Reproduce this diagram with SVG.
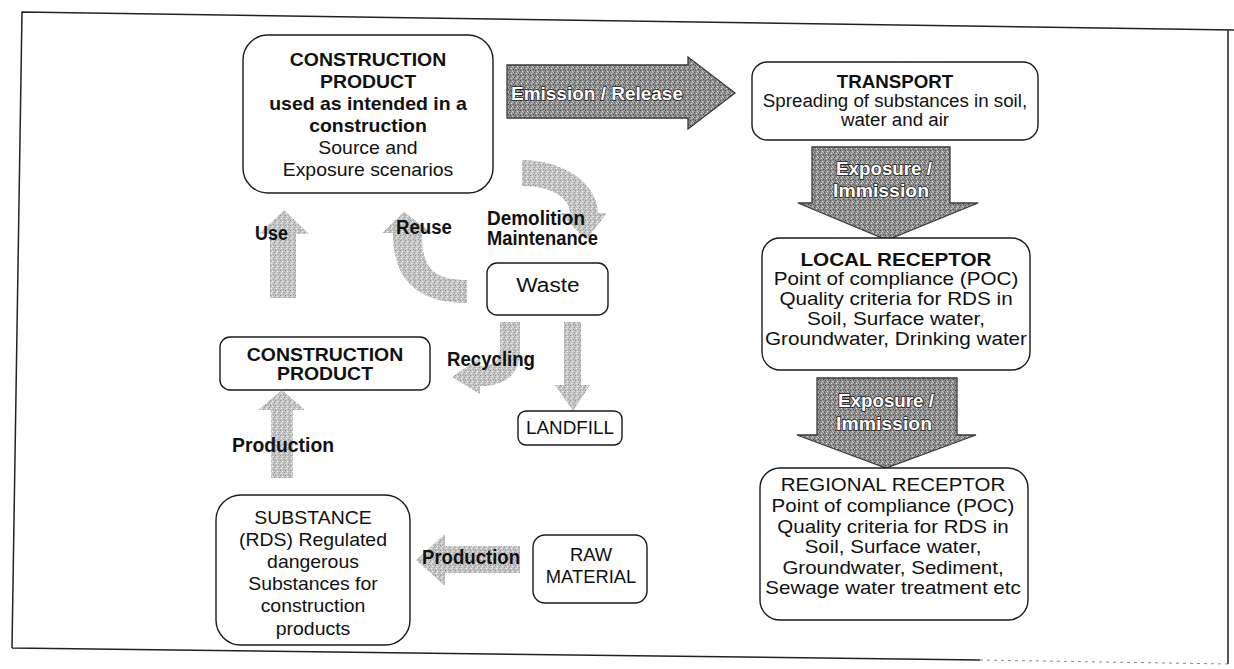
<svg xmlns="http://www.w3.org/2000/svg" width="1234" height="669" viewBox="0 0 1234 669">
<defs>
<pattern id="dark" width="5" height="5" patternUnits="userSpaceOnUse">
<rect width="5" height="5" fill="#8e8e8e"/>
<rect x="0" y="0" width="1" height="1" fill="#4a4a4a"/>
<rect x="2" y="1" width="1" height="1" fill="#d8d8d8"/>
<rect x="4" y="2" width="1" height="1" fill="#555"/>
<rect x="1" y="3" width="1" height="1" fill="#e0e0e0"/>
<rect x="3" y="4" width="1" height="1" fill="#505050"/>
<rect x="3" y="2" width="1" height="1" fill="#bbb"/>
</pattern>
<pattern id="light" width="5" height="5" patternUnits="userSpaceOnUse">
<rect width="5" height="5" fill="#c4c4c4"/>
<rect x="0" y="0" width="1" height="1" fill="#8a8a8a"/>
<rect x="2" y="1" width="1" height="1" fill="#f2f2f2"/>
<rect x="4" y="2" width="1" height="1" fill="#999"/>
<rect x="1" y="3" width="1" height="1" fill="#f5f5f5"/>
<rect x="3" y="4" width="1" height="1" fill="#9a9a9a"/>
</pattern>
</defs>
<style>
.box{fill:#fff;stroke:#1a1a1a;stroke-width:1.4}
.t{font-family:"Liberation Sans",Arial,sans-serif;font-size:18px;fill:#111;text-anchor:middle}
.b{font-weight:bold}
.lab{font-family:"Liberation Sans",Arial,sans-serif;font-size:20px;font-weight:bold;fill:#111}
.darr{fill:url(#dark);stroke:#3a3a3a;stroke-width:1.3}
.larr{fill:url(#light);stroke:none}
.wt{font-family:"Liberation Sans",Arial,sans-serif;font-size:19px;font-weight:bold;fill:#fff;stroke:#222;stroke-width:1.6;paint-order:stroke;text-anchor:middle}
.frame{fill:none;stroke:#222;stroke-width:1.5}
</style>
<rect width="1234" height="669" fill="#fff"/>
<path class="frame" d="M12,648 L22,12 L1234,30 M1228,30 L1228,664 M12,648 L980,660"/>
<path d="M980,660 L1228,664" fill="none" stroke="#888" stroke-width="1" stroke-dasharray="3 4"/>

<g id="connectors">
<path class="darr" d="M507,65 L688,65 L688,57 L735,93 L688,129 L688,118 L507,118 Z"/>
<text class="wt" x="597" y="100" textLength="172" lengthAdjust="spacingAndGlyphs">Emission / Release</text>
<path class="darr" d="M812,147 L950,147 L950,203 L978,203 L887,240 L798,203 L812,203 Z"/>
<text class="wt" x="884" y="175" textLength="96" lengthAdjust="spacingAndGlyphs">Exposure /</text>
<text class="wt" x="881" y="197" textLength="96" lengthAdjust="spacingAndGlyphs">Immission</text>
<path class="darr" d="M817,378 L957,378 L957,435 L976,435 L886,468 L797,435 L817,435 Z"/>
<text class="wt" x="886" y="407" textLength="96" lengthAdjust="spacingAndGlyphs">Exposure /</text>
<text class="wt" x="884" y="430" textLength="96" lengthAdjust="spacingAndGlyphs">Immission</text>

<path class="larr" d="M522,160 C565,160 598,185 598,213 L607,213 L586,240 L560,213 L570,213 C570,197 550,186 522,186 Z"/>
<path class="larr" d="M467,280 C430,280 422,265 422,233 L432,233 L404,212 L382,233 L393,233 C393,282 420,303 467,303 Z"/>
<path class="larr" d="M270,298 L296,298 L296,234 L309,234 L284,210 L259,234 L270,234 Z"/>
<path class="larr" d="M500,322 L520,322 L520,350 C520,372 508,386 480,386 L480,394 L452,377 L480,358 L480,366 C495,366 500,360 500,348 Z"/>
<path class="larr" d="M564,322 L581,322 L581,385 L590,385 L573,411 L555,385 L564,385 Z"/>
<path class="larr" d="M271,478 L293,478 L293,410 L305,410 L282,390 L258,410 L271,410 Z"/>
<path class="larr" d="M520,546 L445,546 L445,534 L416,560 L445,586 L445,573 L520,573 Z"/>

<text class="lab" x="487" y="225" textLength="98" lengthAdjust="spacingAndGlyphs">Demolition</text>
<text class="lab" x="487" y="245" textLength="111" lengthAdjust="spacingAndGlyphs">Maintenance</text>
<text class="lab" x="396" y="234" textLength="56" lengthAdjust="spacingAndGlyphs">Reuse</text>
<text class="lab" x="255" y="240" textLength="33" lengthAdjust="spacingAndGlyphs">Use</text>
<text class="lab" x="447" y="366" textLength="88" lengthAdjust="spacingAndGlyphs">Recycling</text>
<text class="lab" x="232" y="452" textLength="102" lengthAdjust="spacingAndGlyphs">Production</text>
<text class="lab" x="422" y="564" textLength="98" lengthAdjust="spacingAndGlyphs">Production</text>
</g>

<g id="cp-use">
<rect class="box" x="243" y="35" width="250" height="158" rx="25"/>
<g transform="translate(368 0) scale(1.08 1)">
<text class="t b" x="0" y="66">CONSTRUCTION</text>
<text class="t b" x="0" y="88">PRODUCT</text>
<text class="t b" x="0" y="110">used as intended in a</text>
<text class="t b" x="0" y="132">construction</text>
<text class="t" x="0" y="154">Source and</text>
<text class="t" x="0" y="176">Exposure scenarios</text>
</g>
</g>

<g id="transport">
<rect class="box" x="752" y="62" width="286" height="78" rx="15"/>
<g transform="translate(895 0) scale(1.04 1)">
<text class="t b" x="0" y="88">TRANSPORT</text>
<text class="t" x="0" y="107">Spreading of substances in soil,</text>
<text class="t" x="0" y="126">water and air</text>
</g>
</g>

<g id="local-receptor">
<rect class="box" x="762" y="238" width="268" height="132" rx="18"/>
<g transform="translate(896 0) scale(1.15 1)">
<text class="t b" x="0" y="266">LOCAL RECEPTOR</text>
<text class="t" x="0" y="285">Point of compliance (POC)</text>
<text class="t" x="0" y="305">Quality criteria for RDS in</text>
<text class="t" x="0" y="325">Soil, Surface water,</text>
<text class="t" x="0" y="345">Groundwater, Drinking water</text>
</g>
</g>

<g id="regional-receptor">
<rect class="box" x="760" y="468" width="268" height="152" rx="20"/>
<g transform="translate(893 0) scale(1.14 1)">
<text class="t" x="0" y="491">REGIONAL RECEPTOR</text>
<text class="t" x="0" y="512">Point of compliance (POC)</text>
<text class="t" x="0" y="533">Quality criteria for RDS in</text>
<text class="t" x="0" y="553">Soil, Surface water,</text>
<text class="t" x="0" y="574">Groundwater, Sediment,</text>
<text class="t" x="0" y="594">Sewage water treatment etc</text>
</g>
</g>

<g id="waste">
<rect class="box" x="487" y="263" width="121" height="52" rx="10"/>
<g transform="translate(548 0) scale(1.08 1)">
<text class="t" x="0" y="292" style="font-size:21px">Waste</text>
</g>
</g>

<g id="landfill">
<rect class="box" x="518" y="411" width="104" height="34" rx="8"/>
<g transform="translate(570 0) scale(1.05 1)">
<text class="t" x="0" y="434">LANDFILL</text>
</g>
</g>

<g id="cp">
<rect class="box" x="220" y="337" width="210" height="53" rx="10"/>
<g transform="translate(325 0) scale(1.08 1)">
<text class="t b" x="0" y="361">CONSTRUCTION</text>
<text class="t b" x="0" y="380">PRODUCT</text>
</g>
</g>

<g id="substance">
<rect class="box" x="216" y="495" width="194" height="150" rx="25"/>
<g transform="translate(313 0) scale(1.08 1)">
<text class="t" x="0" y="524">SUBSTANCE</text>
<text class="t" x="0" y="546">(RDS) Regulated</text>
<text class="t" x="0" y="568">dangerous</text>
<text class="t" x="0" y="590">Substances for</text>
<text class="t" x="0" y="612">construction</text>
<text class="t" x="0" y="635">products</text>
</g>
</g>

<g id="raw-material">
<rect class="box" x="533" y="535" width="114" height="68" rx="12"/>
<g transform="translate(591 0) scale(1.02 1)">
<text class="t" x="0" y="561">RAW</text>
<text class="t" x="0" y="583">MATERIAL</text>
</g>
</g>
</svg>
